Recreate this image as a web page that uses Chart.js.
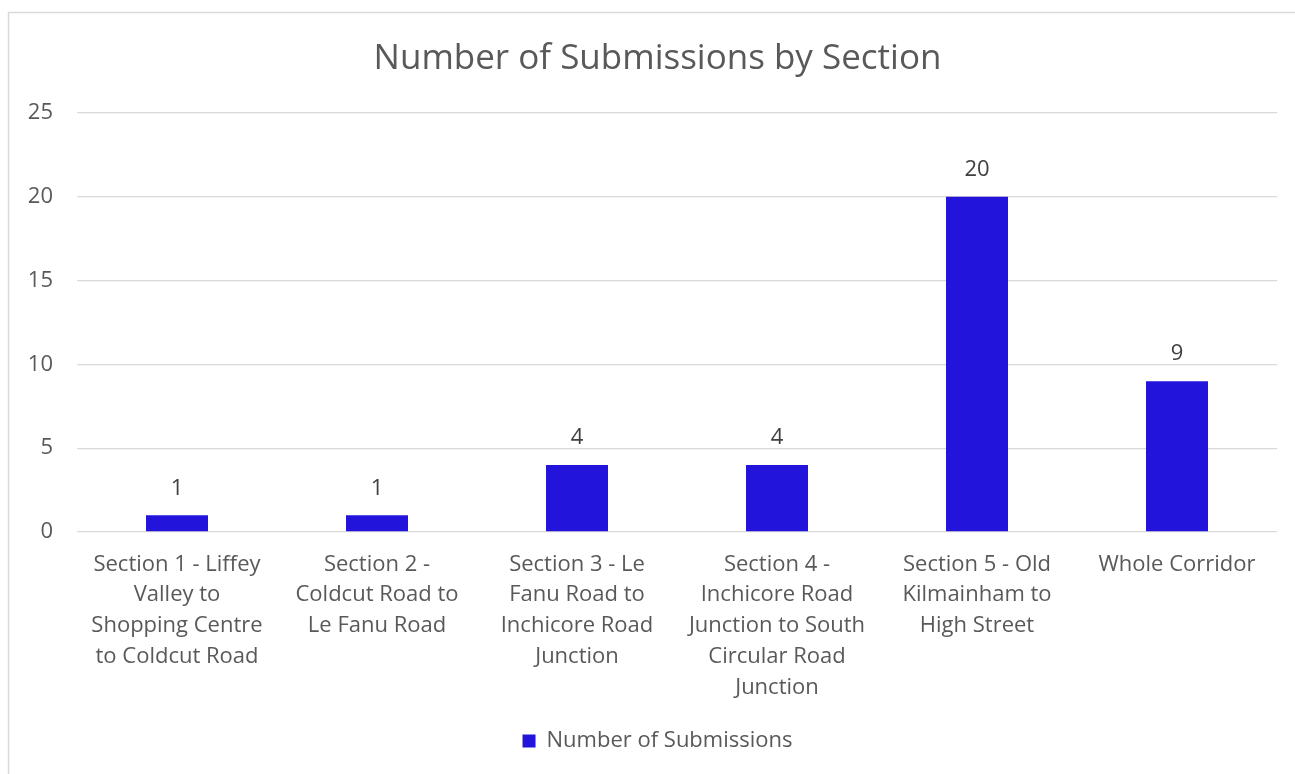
<!DOCTYPE html>
<html>
<head>
<meta charset="utf-8">
<title>Number of Submissions by Section</title>
<script src="https://cdn.jsdelivr.net/npm/chart.js@4.4.1/dist/chart.umd.min.js"></script>
<style>
  html, body { margin: 0; padding: 0; background: #ffffff; }
  #wrap { position: relative; width: 1295px; height: 774px; }
</style>
</head>
<body>
<div id="wrap"><canvas id="chart" width="1295" height="774"></canvas></div>
<script>
// Sections along the corridor (multi-line tick labels)
const sections = [
  ["Section 1 - Liffey", "Valley to", "Shopping Centre", "to Coldcut Road"],
  ["Section 2 -", "Coldcut Road to", "Le Fanu Road"],
  ["Section 3 - Le", "Fanu Road to", "Inchicore Road", "Junction"],
  ["Section 4 -", "Inchicore Road", "Junction to South", "Circular Road", "Junction"],
  ["Section 5 - Old", "Kilmainham to", "High Street"],
  ["Whole Corridor"]
];
const submissions = [1, 1, 4, 4, 20, 9];
const yTicks = [0, 5, 10, 15, 20, 25];

const FONT = "'Open Sans', 'Noto Sans', sans-serif";
const TEXT = '#595959';
const BAR = '#2314DC';

// Light frame around the chart area
const framePlugin = {
  id: 'frame',
  beforeDraw(chart) {
    const ctx = chart.ctx;
    ctx.save();
    ctx.strokeStyle = '#d9d9d9';
    ctx.lineWidth = 1.5;
    ctx.beginPath();
    ctx.moveTo(8.5, chart.height + 5);
    ctx.lineTo(8.5, 12.5);
    ctx.lineTo(chart.width + 5, 12.5);
    ctx.stroke();
    ctx.restore();
  }
};

// Value labels above each bar
const valueLabels = {
  id: 'valueLabels',
  afterDatasetsDraw(chart) {
    const ctx = chart.ctx;
    const meta = chart.getDatasetMeta(0);
    ctx.save();
    ctx.font = "22px " + FONT;
    ctx.fillStyle = '#404040';
    ctx.textAlign = 'center';
    ctx.textBaseline = 'middle';
    meta.data.forEach((bar, i) => {
      ctx.fillText(String(chart.data.datasets[0].data[i]), bar.x, bar.y - 27);
    });
    ctx.restore();
  }
};

new Chart(document.getElementById('chart'), {
  type: 'bar',
  data: {
    labels: sections,
    datasets: [{
      label: 'Number of Submissions',
      data: submissions,
      backgroundColor: BAR,
      borderWidth: 0,
      categoryPercentage: 1.0,
      barPercentage: 0.31
    }]
  },
  options: {
    responsive: false,
    animation: false,
    layout: { padding: { left: 20, right: 0, top: 0, bottom: 12 } },
    plugins: {
      title: {
        display: true,
        text: 'Number of Submissions by Section',
        color: TEXT,
        font: { family: FONT, size: 35, weight: 'normal', lineHeight: 1.2 },
        padding: { top: 38, bottom: 33 }
      },
      legend: {
        position: 'bottom',
        labels: {
          color: TEXT,
          font: { family: FONT, size: 22 },
          boxWidth: 13,
          boxHeight: 13,
          padding: 10
        }
      },
      tooltip: { enabled: false }
    },
    scales: {
      x: {
        grid: { display: false, drawTicks: false },
        border: { display: false },
        ticks: {
          color: TEXT,
          font: { family: FONT, size: 22, lineHeight: 1.4 },
          padding: 17,
          maxRotation: 0,
          autoSkip: false
        },
        afterFit(scale) { scale.height = 188; }
      },
      y: {
        min: 0,
        max: 25,
        afterBuildTicks(scale) { scale.ticks = yTicks.map(v => ({ value: v })); },
        grid: { color: '#d9d9d9', lineWidth: 1.3, drawTicks: false },
        border: { display: false },
        ticks: {
          color: TEXT,
          font: { family: FONT, size: 22 },
          padding: 24
        },
        afterFit(scale) { scale.width = 57; }
      },
      // empty right-hand margin axis
      yRight: {
        position: 'right',
        min: 0,
        max: 25,
        grid: { display: false, drawTicks: false },
        border: { display: false },
        ticks: { display: false },
        afterFit(scale) { scale.width = 18; }
      }
    }
  },
  plugins: [framePlugin, valueLabels]
});
</script>
</body>
</html>
